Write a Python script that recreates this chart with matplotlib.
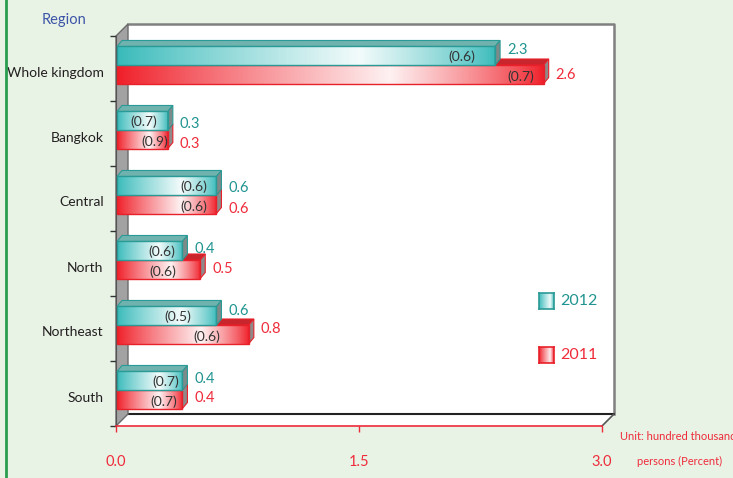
import numpy as np
import matplotlib
matplotlib.use("Agg")
import matplotlib.pyplot as plt
import matplotlib.transforms as mtrans
from matplotlib.patches import Polygon, Rectangle
from matplotlib.transforms import IdentityTransform
from matplotlib.lines import Line2D

plt.rcParams['font.family'] = ['Lato', 'DejaVu Sans']

# ---------------- data ----------------
regions = ["Whole kingdom", "Bangkok", "Central", "North", "Northeast", "South"]
val_2012 = [2.34, 0.32, 0.62, 0.41, 0.62, 0.41]
val_2011 = [2.64, 0.32, 0.62, 0.52, 0.82, 0.41]
pct_2012 = ["(0.6)", "(0.7)", "(0.6)", "(0.6)", "(0.5)", "(0.7)"]
pct_2011 = ["(0.7)", "(0.9)", "(0.6)", "(0.6)", "(0.6)", "(0.7)"]
x_ticks = [0.0, 1.5, 3.0]
x_ticklabels = ["0.0", "1.5", "3.0"]
series_names = ["2012", "2011"]

# ---------------- style ----------------
W, H = 733, 478
BG = "#e8f3e6"
TEAL = np.array([56, 186, 186]) / 255
RED = np.array([240, 30, 40]) / 255
TEAL_TXT = "#1f9490"
RED_TXT = "#ef2b3a"
DEPTH = 12          # wall depth in px
BDX, BDY = 5, 6     # bar depth in px
BAR_H = 0.285
BAR_SHIFT = 3.5     # px upward
# label placement tweaks (px)
pct_off_2012 = [20, 11, 9, 7, 25, 3]
pct_off_2011 = [10, 0, 9, 24, 29, 5]
vlab_dy_2012 = [6, -3, -2, 1.5, 5, 1.5]     # positive = up
vlab_dy_2011 = [-1, -5, -5, 0, 5, 1]

fig = plt.figure(figsize=(W / 100, H / 100), dpi=100, facecolor=BG)
ax = fig.add_axes([116 / W, (H - 426) / H, (602 - 116) / W, (426 - 36) / H])
ax.set_xlim(0, 3)
ax.set_ylim(5.5, -0.5)
ax.set_autoscale_on(False)
ax.patch.set_visible(False)
for s in ["top", "right"]:
    ax.spines[s].set_visible(False)
ax.spines["bottom"].set_color(RED_TXT)
ax.spines["bottom"].set_linewidth(1.2)
ax.spines["bottom"].set_zorder(2)
ax.spines["left"].set_color("#555555")
ax.spines["left"].set_zorder(2)

# green frame line on left of the page
fig.add_artist(Line2D([6 / W, 6 / W], [0, 1], color="#2a9d4f", lw=2, transform=fig.transFigure))

ID = IdentityTransform()


def disp(x, y, dx=0.0, dy=0.0):
    p = ax.transData.transform((x, y))
    return (p[0] + dx, p[1] + dy)


# ---------------- walls ----------------
x0, x1 = ax.get_xlim()
ytop, ybot = -0.5, 5.5
bw = [disp(x0, ybot, DEPTH, DEPTH), disp(x1, ybot, DEPTH, DEPTH),
      disp(x1, ytop, DEPTH, DEPTH), disp(x0, ytop, DEPTH, DEPTH)]
ax.add_patch(Polygon(bw, closed=True, fc="white", ec="none", transform=ID, clip_on=False, zorder=0))
ax.add_line(Line2D([bw[3][0], bw[2][0], bw[1][0]], [bw[3][1], bw[2][1], bw[1][1]],
                   color="#808080", lw=1.8, transform=ID, clip_on=False, zorder=1))
fl = [disp(x0, ybot), disp(x1, ybot), disp(x1, ybot, DEPTH, DEPTH), disp(x0, ybot, DEPTH, DEPTH)]
ax.add_patch(Polygon(fl, closed=True, fc="white", ec="none", transform=ID, clip_on=False, zorder=0.5))
ax.add_line(Line2D([fl[3][0], fl[2][0]], [fl[3][1], fl[2][1]], color="#222222", lw=1.5,
                   transform=ID, clip_on=False, zorder=1))
ax.add_line(Line2D([fl[2][0], fl[1][0]], [fl[2][1], fl[1][1]], color="#555555", lw=1.2,
                   transform=ID, clip_on=False, zorder=1))
lw_ = [disp(x0, ybot), disp(x0, ytop), disp(x0, ytop, DEPTH, DEPTH), disp(x0, ybot, DEPTH, DEPTH)]
ax.add_patch(Polygon(lw_, closed=True, fc="#a2a2a2", ec="#6a6a6a", lw=1.0, transform=ID,
                     clip_on=False, zorder=1))


# ---------------- bars ----------------
def gradient(rgb, n=256, peak=0.64, wmax=0.94):
    t = np.linspace(0, 1, n)
    w = np.where(t < peak, wmax * (t / peak) ** 0.9, wmax * (1 - (t - peak) / (1 - peak)) ** 0.8)
    c = rgb[None, :] * (1 - w[:, None]) + w[:, None]
    return c[None, :, :]


def draw_bar(v, y_top_d, y_bot_d, rgb, edge, topc, sidec, z):
    xa, yb = disp(0, y_bot_d, 1, BAR_SHIFT)
    xb, yt = disp(v, y_top_d, 0, BAR_SHIFT)
    front = Rectangle((xa, yb), xb - xa, yt - yb, fc="none", ec=edge, lw=1.0, transform=ID, zorder=z + 0.2)
    clip = Rectangle((xa, yb), xb - xa, yt - yb, transform=ID)
    im = ax.imshow(gradient(rgb), extent=(xa, xb, yb, yt), transform=ID, aspect="auto",
                   interpolation="bilinear", zorder=z, clip_on=False)
    im.set_clip_path(clip)
    top = Polygon([(xa, yt), (xb, yt), (xb + BDX, yt + BDY), (xa + BDX, yt + BDY)], closed=True,
                  fc=topc, ec=edge, lw=0.8, transform=ID, zorder=z - 0.1, clip_on=False)
    side = Polygon([(xb, yb), (xb, yt), (xb + BDX, yt + BDY), (xb + BDX, yb + BDY)], closed=True,
                   fc=sidec, ec=edge, lw=0.8, transform=ID, zorder=z + 0.1, clip_on=False)
    ax.add_patch(top)
    ax.add_patch(side)
    ax.add_patch(front)


for i, name in enumerate(regions):
    draw_bar(val_2011[i], i, i + BAR_H, RED, "#e8202a", "#c9252c", "#8e8a8a", 3 + i * 0.01)
    draw_bar(val_2012[i], i - BAR_H, i, TEAL, "#2a9a96", "#6fb2ae", "#7d8a89", 4 + i * 0.01)

    ax.annotate(f"{val_2012[i]:.1f}", xy=(val_2012[i], i - BAR_H / 2), xytext=(12, BAR_SHIFT + vlab_dy_2012[i]),
                textcoords="offset pixels", ha="left", va="center", color=TEAL_TXT, fontsize=10.5, zorder=6)
    ax.annotate(f"{val_2011[i]:.1f}", xy=(val_2011[i], i + BAR_H / 2), xytext=(12, BAR_SHIFT + vlab_dy_2011[i]),
                textcoords="offset pixels", ha="left", va="center", color=RED_TXT, fontsize=10.5, zorder=6)
    ax.annotate(pct_2012[i], xy=(val_2012[i], i - BAR_H / 2), xytext=(-pct_off_2012[i], BAR_SHIFT - 1),
                textcoords="offset pixels", ha="right", va="center", color="#333333", fontsize=10, zorder=6)
    ax.annotate(pct_2011[i], xy=(val_2011[i], i + BAR_H / 2), xytext=(-pct_off_2011[i], BAR_SHIFT - 2),
                textcoords="offset pixels", ha="right", va="center", color="#333333", fontsize=10, zorder=6)

# ---------------- axes ticks ----------------
ax.set_yticks(range(len(regions)))
ax.set_yticklabels(regions, fontsize=10, color="#231f20")
ax.set_yticks(np.arange(-0.5, len(regions), 1.0), minor=True)
ax.tick_params(axis="y", which="major", length=0, pad=9)
ax.tick_params(axis="y", which="minor", length=4.5, width=1, color="#333333")
for lab in ax.get_yticklabels():
    lab.set_transform(lab.get_transform() + mtrans.ScaledTranslation(0, -3 / 100, fig.dpi_scale_trans))

ax.set_xticks(x_ticks)
ax.set_xticklabels(x_ticklabels, fontsize=10.5, color=RED_TXT)
ax.tick_params(axis="x", which="major", length=4, width=1, color=RED_TXT, pad=17)

# ---------------- titles / legend ----------------
fig.text(42 / W, 1 - 20 / H, "Region", color="#3d55a8", fontsize=10.5, va="center", ha="left")
fig.text(620 / W, 1 - 436 / H, "Unit: hundred thousand", color=RED_TXT, fontsize=8, va="center", ha="left")
fig.text(680 / W, 1 - 461 / H, "persons (Percent)", color=RED_TXT, fontsize=8, va="center", ha="center")

leg_rgb = [TEAL, RED]
leg_edge = ["#2a9a96", "#e8202a"]
leg_txt = [TEAL_TXT, RED_TXT]
leg_y = [301, 355]
for k in range(2):
    lax = fig.add_axes([539 / W, (H - leg_y[k] - 8) / H, 15 / W, 16 / H])
    lax.imshow(gradient(leg_rgb[k], peak=0.75, wmax=0.92), aspect="auto", interpolation="bilinear")
    lax.set_xticks([])
    lax.set_yticks([])
    for s in lax.spines.values():
        s.set_color(leg_edge[k])
        s.set_linewidth(1.2)
    fig.text(560 / W, 1 - leg_y[k] / H, series_names[k], color=leg_txt[k], fontsize=11.5,
             va="center", ha="left")

fig.savefig("out.png", dpi=100, facecolor=BG)
